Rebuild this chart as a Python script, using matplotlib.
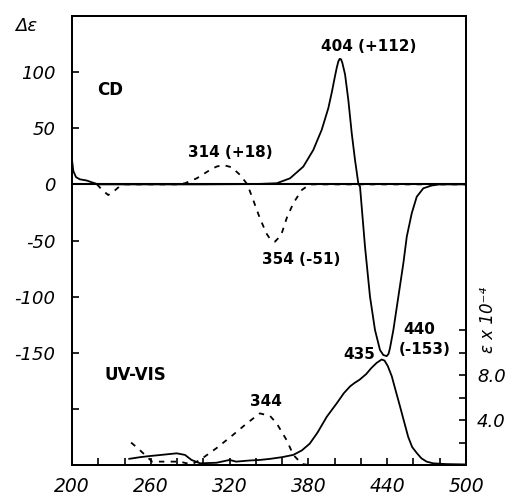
import matplotlib.pyplot as plt

# CD spectrum, solid curve (delta epsilon)
cd_solid_wl = [200, 201, 203, 206, 211, 216, 220, 240, 300, 340, 355.9, 366, 376.1,
               383.7, 390.1, 395.2, 398, 400, 401.6, 402.8, 403.8, 404.8, 405.8, 407.9,
               410.4, 413, 415.5, 418, 419.3, 423.1, 426.9, 430.7, 434.5, 437, 439.6,
               441, 442.1, 444.7, 448.5, 452.3, 454.9, 458.7, 462.5, 467.5, 473.9, 480,
               500]
cd_solid = [22, 12, 6.5, 4.5, 3.5, 1.5, 0, 0, 0, 0.3, 1, 5.4, 15.8,
            30.6, 48.5, 68, 83, 95, 104, 109.5, 111.8, 111.5, 108.5, 98, 75.2,
            45.5, 21.7, 1, -2, -55.5, -100, -129.7, -147.5, -152, -153,
            -151, -146, -129.7, -100, -70.3, -46.6, -25.7, -11, -3.5, -1, 0,
            0]

# CD spectrum, dashed curve
cd_dash_wl = [219, 223, 227.6, 232, 236, 240, 280, 286, 295, 305, 310, 315, 321.6, 328,
              333.5, 338, 343, 348, 351, 354.6, 357, 359.7, 363.5, 368.5, 375, 381, 500]
cd_dash = [0, -5, -9.5, -6, -2, 0, 0, 1, 5.4, 12.8, 15.8, 17.3, 15.2, 8.4,
           0, -14, -30, -43.6, -49, -51, -48, -43.6, -30, -16.8, -5, 0, 0]

# UV-VIS spectrum, solid curve (epsilon x 1e-4)
uv_solid_wl = [243.6, 252, 259.4, 268, 274.6, 279.7, 286, 291, 297.5, 310, 320, 325,
               335, 343, 351, 360, 368.5, 375, 381, 387, 394, 401.6, 407, 411.7, 415,
               419, 424, 428, 432, 435.8, 438, 440.5, 443.5, 446.5, 449.8, 453, 456,
               459, 462.5, 466, 470, 475, 485, 500]
uv_solid = [0.55, 0.7, 0.8, 0.9, 0.98, 1.04, 0.9, 0.45, 0.15, 0.2, 0.45, 0.3,
            0.4, 0.45, 0.55, 0.7, 0.9, 1.3, 1.9, 2.9, 4.3, 5.5, 6.4, 7.0, 7.3,
            7.6, 8.1, 8.65, 9.1, 9.4, 9.3, 8.8, 7.9, 6.6, 5.2, 3.8, 2.5,
            1.6, 1.07, 0.6, 0.3, 0.15, 0.08, 0.05]

# UV-VIS spectrum, dashed curve
uv_dash_wl = [245, 251, 257, 261, 270, 282, 291, 297.5, 310, 322.8, 333, 343, 350.8,
              355.9, 363.5, 368.5, 375, 380]
uv_dash = [2.0, 1.4, 0.74, 0.3, 0.3, 0.3, 0.05, 0.45, 1.5, 2.7, 3.7, 4.6, 4.37,
           3.7, 2.2, 0.9, 0.1, 0.0]

x_ticks = [200, 260, 320, 380, 440, 500]
x_minor = list(range(200, 501, 20))
y_ticks = [100, 50, 0, -50, -100, -150]
y_minor = [-200]
eps_ticks = [2, 4, 6, 8, 10, 12]
eps_labels = ['', '4.0', '', '8.0', '', '']

plt.rcParams['font.family'] = 'DejaVu Sans'
plt.rcParams['axes.unicode_minus'] = False
fig = plt.figure(figsize=(5.16, 4.97), dpi=100)
ax = fig.add_axes([72 / 516, 32 / 497, 394 / 516, 449 / 497])
ax2 = ax.twinx()

lw = 1.3
dash = (0, (3, 3.5))
ax.plot(cd_solid_wl, cd_solid, color='black', lw=lw)
ax.plot(cd_dash_wl, cd_dash, color='black', lw=lw, linestyle=dash)
ax.axhline(0, color='black', lw=1.5)
ax2.plot(uv_solid_wl, uv_solid, color='black', lw=lw)
ax2.plot(uv_dash_wl, uv_dash, color='black', lw=lw, linestyle=dash)

ax.set_xlim(200, 500)
ax.set_ylim(-250, 150)
ax2.set_ylim(0, 40)

ax.set_xticks(x_minor, minor=True)
ax.set_xticks(x_ticks)
ax.set_yticks(y_ticks)
ax.set_yticks(y_minor, minor=True)
ax2.set_yticks(eps_ticks)
ax2.set_yticklabels(eps_labels)

ax.tick_params(axis='x', which='both', direction='in', length=5, width=1.2, pad=9,
               labelsize=13.5)
ax.tick_params(axis='y', which='both', direction='in', length=5, width=1.2, pad=12,
               labelsize=13)
ax2.tick_params(axis='y', direction='in', length=5, width=1.2, pad=8, labelsize=13)
for lab in ax.get_xticklabels() + ax.get_yticklabels() + ax2.get_yticklabels():
    lab.set_style('italic')

for a in (ax, ax2):
    for s in a.spines.values():
        s.set_linewidth(1.4)

bold = dict(fontsize=11, fontweight='bold', ha='center', va='center')
ax.text(219, 84, 'CD', fontsize=12, fontweight='bold', ha='left', va='center')
ax.text(248, -170, 'UV-VIS', fontsize=12, fontweight='bold', ha='center', va='center')
ax.text(320.9, 28.4, '314 (+18)', **bold)
ax.text(425.8, 122.7, '404 (+112)', **bold)
ax.text(374.2, -66.5, '354 (-51)', **bold)
ax.text(464.2, -129.7, '440', **bold)
ax.text(468.6, -147.5, '(-153)', **bold)
ax.text(418.5, -152, '435', **bold)
ax.text(347.7, -193.4, '344', **bold)

fig.text(26 / 516, 1 - 26 / 497, 'Δε', fontsize=13, style='italic', ha='center', va='center')
fig.text(488 / 516, 1 - 320 / 497, 'ε x 10⁻⁴', fontsize=12, style='italic',
         rotation=90, ha='center', va='center')

fig.savefig('out.png', dpi=100)
